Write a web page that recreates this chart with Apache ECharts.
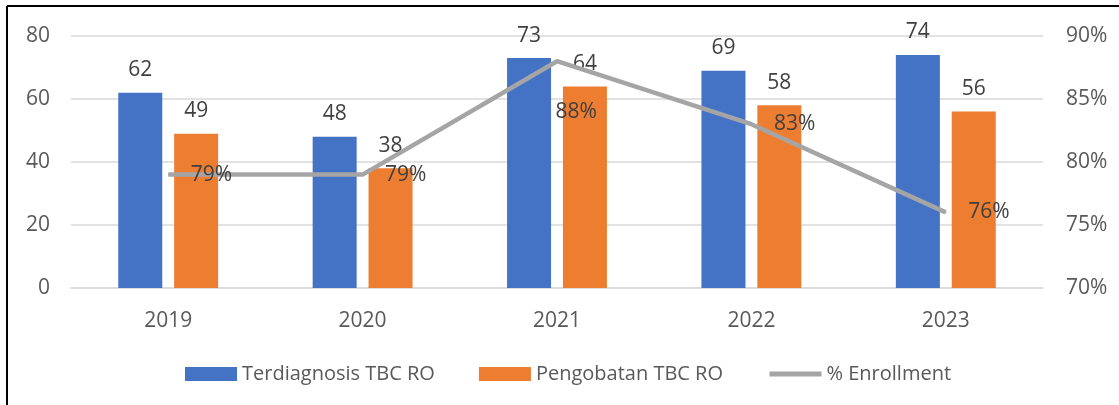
<!DOCTYPE html>
<html>
<head>
	<meta charset="utf-8" />
	<script src="https://cdn.jsdelivr.net/npm/echarts@6/dist/echarts.min.js"></script>
	<style>
		body { margin: 0; background: #fff; }
	</style>
</head>
<body>
	<div id="main" style="width: 1119px;height:405px;"></div>

	<script type="text/javascript">
		// data
		var years = ['2019', '2020', '2021', '2022', '2023'];
		var terdiagnosis = [62, 48, 73, 69, 74];
		var pengobatan = [49, 38, 64, 58, 56];
		var enrollment = [79, 79, 88, 83, 76];

		var FONT = "'Open Sans', sans-serif";

		var myChart = echarts.init(document.getElementById('main'));

		// label for 2021 is moved below the point in the original
		var enrollData = enrollment.map(function (v, i) {
			if (i === 2) {
				return { value: v, label: { distance: 0, offset: [-2, 51] } };
			}
			return v;
		});

		var option = {
			animation: false,
			textStyle: { fontFamily: FONT },
			grid: { left: 71, right: 76, top: 36, bottom: 117 },
			legend: {
				left: 180,
				top: 359,
				itemWidth: 52,
				itemHeight: 14,
				itemGap: 44,
				textStyle: { fontSize: 20, color: '#595959', fontFamily: FONT },
				data: [
					{ name: 'Terdiagnosis TBC RO', icon: 'rect' },
					{ name: 'Pengobatan TBC RO', icon: 'rect' },
					{ name: '% Enrollment', itemStyle: { opacity: 0 }, lineStyle: { width: 5, color: '#A5A5A5' } }
				]
			},
			xAxis: {
				type: 'category',
				data: years,
				axisTick: { show: false },
				axisLine: { lineStyle: { color: '#d9d9d9', width: 1.5 } },
				axisLabel: { fontSize: 21, color: '#595959', margin: 23 }
			},
			yAxis: [
				{
					type: 'value',
					min: 0, max: 80, interval: 20,
					axisLabel: { fontSize: 21, color: '#595959', margin: 21 },
					splitLine: { lineStyle: { color: '#d9d9d9', width: 1.5 } }
				},
				{
					type: 'value',
					min: 70, max: 90, interval: 5,
					axisLabel: { fontSize: 21, color: '#595959', margin: 23, formatter: '{value}%' },
					splitLine: { show: false }
				}
			],
			series: [
				{
					name: 'Terdiagnosis TBC RO',
					type: 'bar',
					data: terdiagnosis,
					barWidth: 44,
					barGap: '27%',
					itemStyle: { color: '#4472C4' },
					label: { show: true, position: 'top', distance: 12, fontSize: 21, color: '#404040' }
				},
				{
					name: 'Pengobatan TBC RO',
					type: 'bar',
					data: pengobatan,
					barWidth: 44,
					itemStyle: { color: '#ED7D31' },
					label: { show: true, position: 'top', distance: 12, fontSize: 21, color: '#404040' }
				},
				{
					name: '% Enrollment',
					type: 'line',
					yAxisIndex: 1,
					data: enrollData,
					symbol: 'circle',
					symbolSize: 1,
					lineStyle: { color: '#A5A5A5', width: 4.5 },
					itemStyle: { color: '#A5A5A5' },
					label: { show: true, position: 'right', distance: 22, fontSize: 21, color: '#404040', formatter: '{c}%' },
					z: 3
				}
			],
			graphic: [
				{ type: 'line', shape: { x1: 7, y1: 6, x2: 1119, y2: 6 }, style: { stroke: '#000', lineWidth: 2 } },
				{ type: 'line', shape: { x1: 7, y1: 6, x2: 7, y2: 405 }, style: { stroke: '#000', lineWidth: 2 } }
			]
		};

		myChart.setOption(option);
	</script>
</body>
</html>
